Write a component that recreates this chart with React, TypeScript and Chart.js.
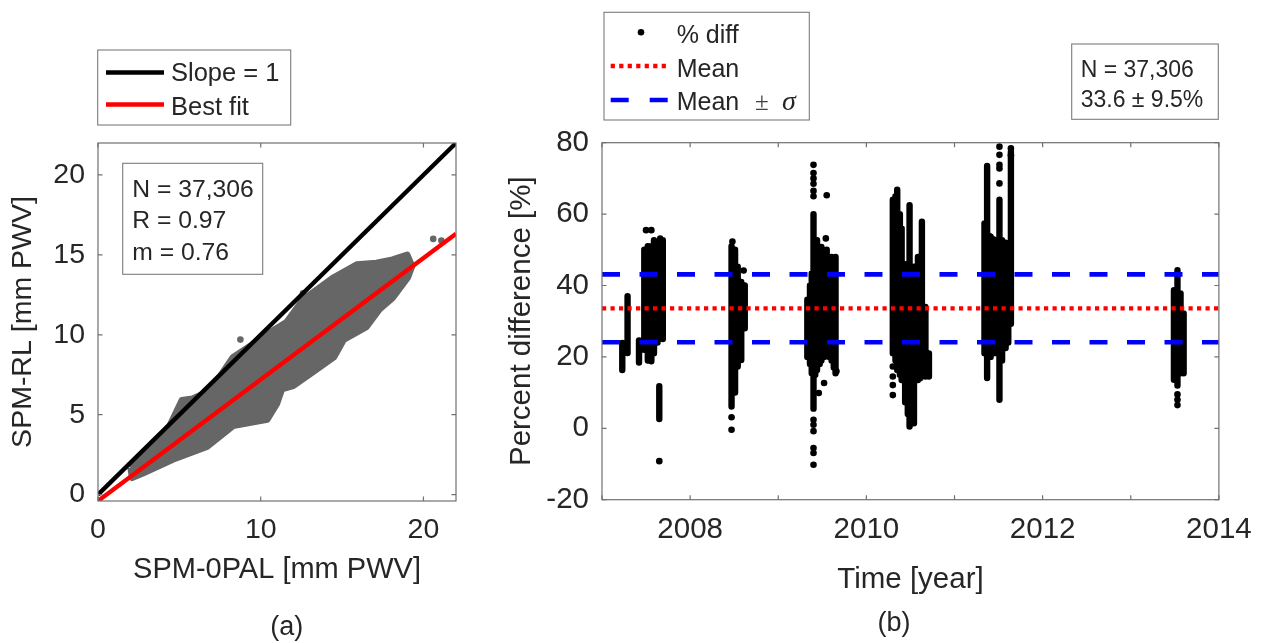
import React, { useEffect, useRef } from 'react';
import { Chart, registerables } from 'chart.js';

Chart.register(...registerables);

const FONT = "'Liberation Sans', Arial, Helvetica, sans-serif";
const SERIF = "'Liberation Serif', 'DejaVu Serif', serif";
const TEXT = '#262626';
const AXIS = '#707070';
const BOXLINE = '#7c7c7c';
const GRAY = '#666666';

// ---------------- Panel (a) ----------------
const aXTicks = [0, 10, 20];
const aYTicks = [0, 5, 10, 15, 20];
const aXMin = 0;
const aXMax = 22;
const aYMin = -0.4;
const aYMax = 22;
const slopeOneX = [0, 22];
const slopeOneY = [0, 22];
const bestFitX = [0, 22];
const bestFitY = [-0.4, 16.32];
// outline of the dense gray point cloud (upper edge, then lower edge back)
const cloudX = [2.0, 2.8, 3.6, 4.4, 5.15, 5.8, 6.7, 7.5, 8.3, 9.35, 10.8, 11.6, 12.6, 13.4, 14.5, 15.9, 17.1, 18.1, 19.0, 19.3, 19.05, 18.1, 17.3, 16.5, 15.1, 14.5, 13.4, 12.0, 11.3, 11.0, 10.4, 8.3, 6.7, 4.6, 2.8, 2.1, 2.0];
const cloudY = [1.7, 2.6, 3.4, 4.3, 5.9, 6.0, 6.4, 7.4, 8.6, 9.3, 10.3, 10.8, 12.2, 12.8, 13.6, 14.4, 14.5, 14.7, 15.0, 14.3, 13.6, 12.3, 11.6, 10.5, 9.7, 8.6, 7.8, 6.8, 6.6, 5.7, 4.7, 4.3, 3.0, 2.2, 1.35, 1.05, 1.7];
const strayX = [8.75, 20.6, 21.1, 18.45, 12.6];
const strayY = [9.7, 16.0, 15.9, 14.8, 12.6];
const legendA = ['Slope = 1', 'Best fit'];
const statsA = ['N = 37,306', 'R = 0.97', 'm = 0.76'];

// ---------------- Panel (b) ----------------
const bXTicks = [2007, 2008, 2009, 2010, 2011, 2012, 2013, 2014];
const bYTicks = [-20, 0, 20, 40, 60, 80];
const bXMin = 2007;
const bXMax = 2014;
const bYMin = -20;
const bYMax = 80;
const meanPct = 33.6;
const sigmaPct = 9.5;
// dense vertical runs of points: time, lowest value, highest value
const colTime = [
  2007.23, 2007.29, 2007.42,
  2007.48, 2007.52, 2007.56, 2007.59, 2007.63, 2007.65, 2007.66, 2007.69,
  2008.47, 2008.51, 2008.54, 2008.58, 2008.62,
  2009.33, 2009.36, 2009.38, 2009.40, 2009.42, 2009.44, 2009.47, 2009.49, 2009.52, 2009.55, 2009.58, 2009.605, 2009.63, 2009.65,
  2010.30, 2010.33, 2010.35, 2010.38, 2010.40, 2010.44, 2010.47, 2010.49, 2010.52, 2010.54, 2010.585, 2010.61, 2010.63, 2010.67, 2010.71,
  2011.34, 2011.37, 2011.39, 2011.41, 2011.44, 2011.46, 2011.48, 2011.51, 2011.54, 2011.58, 2011.61, 2011.64,
  2013.49, 2013.53, 2013.565, 2013.60,
];
const colLow = [
  16.3, 21.1, 18.4,
  22, 19, 18.8, 21, 24, 2.6, 28.5, 25,
  6.1, 10, 17.3, 19.1, 28,
  20, 18, 15.4, 5.5, 15, 16.3, 18, 19, 20, 21, 20, 19, 17, 15.4,
  21, 19, 16.3, 15, 13.5, 7.3, 4, 0.5, 2, 1.4, 13.5, 14, 14.5, 14.5, 14.5,
  21, 14.1, 20, 20, 21, 22.6, 21, 8.0, 19, 22.5, 24, 29.3,
  13.6, 12, 15.4, 15.4,
];
const colHigh = [
  23.9, 37, 24.6,
  50, 51, 51, 52.7, 50, 11.8, 53.2, 52.7,
  51, 50, 45.3, 41, 40,
  36, 40, 43.4, 60, 48, 52.7, 49, 50.8, 49, 50, 48, 48, 47, 48,
  64, 65, 66.8, 60, 56, 46, 44, 62.5, 44, 45.3, 48, 47, 57.9, 34, 21,
  57.4, 73.5, 54, 53.7, 53, 52.7, 52, 64, 52.7, 52, 51, 77.5,
  38.7, 44.3, 37.8, 32.2,
];
// isolated points
const dotTime = [
  2007.50, 2007.56, 2007.65,
  2008.48, 2008.607, 2008.47, 2008.47,
  2009.40, 2009.40, 2009.40, 2009.40, 2009.40, 2009.40,
  2009.40, 2009.40, 2009.40, 2009.40, 2009.40, 2009.40,
  2009.55, 2009.54, 2009.52, 2009.46, 2009.66,
  2010.30, 2010.30, 2010.30, 2010.30,
  2011.51, 2011.51, 2011.51, 2011.51, 2011.51, 2011.64, 2011.64,
  2013.53, 2013.53, 2013.53,
];
const dotVal = [
  55.5, 55.5, -9.2,
  52.3, 44.2, 3.1, -0.4,
  73.8, 71.5, 70.0, 68.5, 66.5, 65.0,
  2.4, 1.0, -0.8, -5.5, -6.9, -10.2,
  65.3, 53.2, 12.7, 9.9, 16.0,
  17.3, 14.5, 12.1, 9.3,
  78.9, 76.6, 73.8, 72.8, 68.6, 78.4, 76.5,
  9.5, 8.0, 6.5,
];
const legendB = ['% diff', 'Mean', 'Mean'];
const statsB = ['N = 37,306', '33.6 \u00b1 9.5%'];

// ---------------- helpers ----------------
const pts = (xs: number[], ys: number[]) => xs.map((x, i) => ({ x, y: ys[i] }));

const fixedTicks = (vals: number[]) => (scale: any) => {
  scale.ticks = vals.map((v) => ({ value: v }));
};

const frameTicks = {
  id: 'frameTicks',
  afterDatasetsDraw(chart: any) {
    const { ctx, chartArea: a, scales } = chart;
    const TL = 4.5;
    ctx.save();
    ctx.strokeStyle = AXIS;
    ctx.lineWidth = 1.2;
    ctx.beginPath();
    scales.x.ticks.forEach((t: any) => {
      const p = scales.x.getPixelForValue(t.value);
      ctx.moveTo(p, a.bottom);
      ctx.lineTo(p, a.bottom - TL);
      ctx.moveTo(p, a.top);
      ctx.lineTo(p, a.top + TL);
    });
    scales.y.ticks.forEach((t: any) => {
      const p = scales.y.getPixelForValue(t.value);
      ctx.moveTo(a.left, p);
      ctx.lineTo(a.left + TL, p);
      ctx.moveTo(a.right, p);
      ctx.lineTo(a.right - TL, p);
    });
    ctx.stroke();
    ctx.strokeRect(a.left, a.top, a.right - a.left, a.bottom - a.top);
    ctx.restore();
  },
};

function text(ctx: CanvasRenderingContext2D, s: string, x: number, y: number, font: string, align: CanvasTextAlign = 'left', color = TEXT) {
  ctx.font = font;
  ctx.fillStyle = color;
  ctx.textAlign = align;
  ctx.textBaseline = 'alphabetic';
  ctx.fillText(s, x, y);
}

function box(ctx: CanvasRenderingContext2D, x: number, y: number, w: number, h: number) {
  ctx.fillStyle = '#ffffff';
  ctx.fillRect(x, y, w, h);
  ctx.strokeStyle = BOXLINE;
  ctx.lineWidth = 1.1;
  ctx.strokeRect(x, y, w, h);
}

function seg(ctx: CanvasRenderingContext2D, x1: number, x2: number, y: number, color: string, width: number, dash: number[] = []) {
  ctx.save();
  ctx.strokeStyle = color;
  ctx.lineWidth = width;
  ctx.setLineDash(dash);
  ctx.beginPath();
  ctx.moveTo(x1, y);
  ctx.lineTo(x2, y);
  ctx.stroke();
  ctx.restore();
}

const overlayA = {
  id: 'overlayA',
  afterDraw(chart: any) {
    const ctx = chart.ctx as CanvasRenderingContext2D;
    ctx.save();
    box(ctx, 97.7, 50, 193, 75);
    seg(ctx, 106, 164, 72.5, '#000000', 4.5);
    seg(ctx, 106, 164, 104.5, '#ff0000', 4.5);
    text(ctx, legendA[0], 171, 80.7, `25.5px ${FONT}`);
    text(ctx, legendA[1], 171, 115, `25.5px ${FONT}`);
    box(ctx, 122.7, 163.3, 140, 111);
    const base = [196.7, 228.3, 260];
    statsA.forEach((s, i) => text(ctx, s, 132.3, base[i], `24.7px ${FONT}`));
    text(ctx, '(a)', 286.7, 634.5, `27px ${FONT}`, 'center');
    ctx.restore();
  },
};

const overlayB = {
  id: 'overlayB',
  afterDraw(chart: any) {
    const ctx = chart.ctx as CanvasRenderingContext2D;
    ctx.save();
    box(ctx, 604, 12.3, 205.3, 107.7);
    ctx.fillStyle = '#000000';
    ctx.beginPath();
    ctx.arc(641, 32.3, 3.3, 0, Math.PI * 2);
    ctx.fill();
    seg(ctx, 610.7, 670, 66, '#ff0000', 4.3, [4.2, 4.3]);
    seg(ctx, 610.7, 670, 100, '#0000ff', 4.7, [18, 21]);
    text(ctx, legendB[0], 676.7, 43.3, `25px ${FONT}`);
    text(ctx, legendB[1], 676.7, 76.7, `25px ${FONT}`);
    text(ctx, legendB[2], 676.7, 110, `25px ${FONT}`);
    text(ctx, '\u00b1', 755, 110, `25px ${SERIF}`, 'left', '#404040');
    text(ctx, '\u03c3', 782, 110, `italic 28px ${SERIF}`);
    box(ctx, 1071.7, 44, 146.6, 75.3);
    text(ctx, statsB[0], 1080.7, 76.7, `23px ${FONT}`);
    text(ctx, statsB[1], 1080.7, 107.3, `23px ${FONT}`);
    text(ctx, '(b)', 894, 631, `27px ${FONT}`, 'center');
    ctx.restore();
  },
};

function makeConfigA(): any {
  return {
    type: 'scatter',
    data: {
      datasets: [
        { label: 'Best fit', data: pts(bestFitX, bestFitY), showLine: true, borderColor: '#ff0000', borderWidth: 4.3, pointRadius: 0, order: 0 },
        { label: 'Slope = 1', data: pts(slopeOneX, slopeOneY), showLine: true, borderColor: '#000000', borderWidth: 4.3, pointRadius: 0, order: 1 },
        { label: 'cloud', data: pts(cloudX, cloudY), showLine: true, fill: 'shape', backgroundColor: GRAY, borderColor: GRAY, borderWidth: 6.5, borderJoinStyle: 'round', pointRadius: 0, order: 2 },
        { label: 'stray', data: pts(strayX, strayY), pointRadius: 3.3, backgroundColor: GRAY, borderWidth: 0, order: 3 },
      ],
    },
    options: {
      responsive: false,
      animation: false,
      devicePixelRatio: 1,
      events: [],
      layout: { padding: { left: 0, top: 143, right: 808, bottom: 0 } },
      plugins: { legend: { display: false }, tooltip: { enabled: false } },
      scales: {
        x: {
          type: 'linear', min: aXMin, max: aXMax,
          afterFit: (s: any) => { s.height = 142; },
          afterBuildTicks: fixedTicks(aXTicks),
          grid: { display: false, drawTicks: false },
          border: { display: false },
          ticks: { padding: 12, color: TEXT, font: { family: FONT, size: 28.5 }, maxRotation: 0, autoSkip: false, callback: (v: any) => String(v) },
          title: { display: true, text: 'SPM-0PAL [mm PWV]', color: TEXT, font: { family: FONT, size: 29 }, padding: { top: 0, bottom: 55.6 } },
        },
        y: {
          type: 'linear', min: aYMin, max: aYMax,
          afterFit: (s: any) => { s.width = 98; },
          afterBuildTicks: fixedTicks(aYTicks),
          grid: { display: false, drawTicks: false },
          border: { display: false },
          ticks: { padding: 13, color: TEXT, font: { family: FONT, size: 28.5 }, autoSkip: false, callback: (v: any) => String(v) },
          title: { display: true, text: 'SPM-RL [mm PWV]', color: TEXT, font: { family: FONT, size: 28.5 }, padding: { top: 6.3, bottom: 0 } },
        },
      },
    },
    plugins: [frameTicks, overlayA],
  };
}

function makeConfigB(): any {
  const colData: any[] = [];
  colTime.forEach((t, i) => {
    colData.push({ x: t, y: colLow[i] }, { x: t, y: colHigh[i] }, { x: t, y: null });
  });
  return {
    type: 'scatter',
    data: {
      datasets: [
        { label: 'Mean', data: pts([bXMin, bXMax], [meanPct, meanPct]), showLine: true, borderColor: '#ff0000', borderWidth: 4.3, borderDash: [4.2, 4.3], pointRadius: 0, order: 0 },
        { label: 'Mean + sigma', data: pts([bXMin, bXMax], [meanPct + sigmaPct, meanPct + sigmaPct]), showLine: true, borderColor: '#0000ff', borderWidth: 4.7, borderDash: [18, 19.5], pointRadius: 0, order: 1 },
        { label: 'Mean - sigma', data: pts([bXMin, bXMax], [meanPct - sigmaPct, meanPct - sigmaPct]), showLine: true, borderColor: '#0000ff', borderWidth: 4.7, borderDash: [18, 19.5], pointRadius: 0, order: 1 },
        { label: '% diff runs', data: colData, showLine: true, spanGaps: false, borderColor: '#000000', borderWidth: 6.4, borderCapStyle: 'round', borderJoinStyle: 'round', pointRadius: 0, order: 2 },
        { label: '% diff', data: pts(dotTime, dotVal), pointRadius: 3.3, backgroundColor: '#000000', borderWidth: 0, order: 3 },
      ],
    },
    options: {
      responsive: false,
      animation: false,
      devicePixelRatio: 1,
      events: [],
      layout: { padding: { left: 490, top: 142.7, right: 36, bottom: 0 } },
      plugins: { legend: { display: false }, tooltip: { enabled: false } },
      scales: {
        x: {
          type: 'linear', min: bXMin, max: bXMax,
          afterFit: (s: any) => { s.height = 143.3; },
          afterBuildTicks: fixedTicks(bXTicks),
          grid: { display: false, drawTicks: false },
          border: { display: false },
          ticks: { padding: 12.3, color: TEXT, font: { family: FONT, size: 29.5 }, maxRotation: 0, autoSkip: false, callback: (v: any) => (Number(v) % 2 === 0 ? String(v) : '') },
          title: { display: true, text: 'Time [year]', color: TEXT, font: { family: FONT, size: 29.5 }, padding: { top: 0, bottom: 45.8 } },
        },
        y: {
          type: 'linear', min: bYMin, max: bYMax,
          afterFit: (s: any) => { s.width = 112; },
          afterBuildTicks: fixedTicks(bYTicks),
          grid: { display: false, drawTicks: false },
          border: { display: false },
          ticks: { padding: 13, color: TEXT, font: { family: FONT, size: 29.5 }, autoSkip: false, callback: (v: any) => String(v) },
          title: { display: true, text: 'Percent difference [%]', color: TEXT, font: { family: FONT, size: 29.5 }, padding: { top: 13.8, bottom: 0 } },
        },
      },
    },
    plugins: [frameTicks, overlayB],
  };
}

export default function App() {
  const refA = useRef<HTMLCanvasElement>(null);
  const refB = useRef<HTMLCanvasElement>(null);
  useEffect(() => {
    const ca = new Chart(refA.current as HTMLCanvasElement, makeConfigA());
    const cb = new Chart(refB.current as HTMLCanvasElement, makeConfigB());
    return () => {
      ca.destroy();
      cb.destroy();
    };
  }, []);
  const cs: React.CSSProperties = { position: 'absolute', left: 0, top: 0, width: 1264, height: 643 };
  return (
    <div style={{ position: 'fixed', left: 0, top: 0, width: 1264, height: 643, background: '#ffffff', overflow: 'hidden' }}>
      <canvas ref={refA} width={1264} height={643} style={cs} />
      <canvas ref={refB} width={1264} height={643} style={cs} />
    </div>
  );
}
